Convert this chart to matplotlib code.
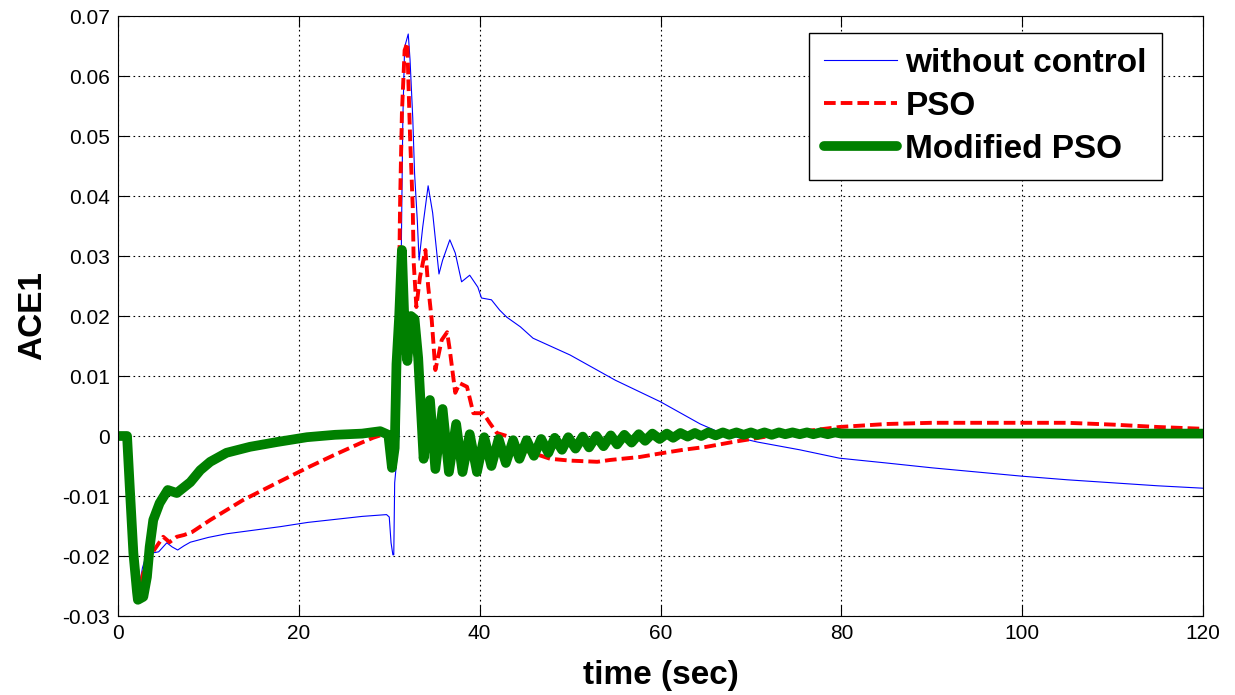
import matplotlib
matplotlib.use("Agg")
import matplotlib.pyplot as plt

plt.rcParams['font.family'] = ['Liberation Sans', 'DejaVu Sans']

# without control (blue)
t_nc = [0, 1.0, 1.3, 1.7, 2.1, 2.3, 2.7, 3.2, 3.8, 4.5, 5.4, 6.0, 6.6, 7.3, 8.0,
        10, 12, 15, 18, 21, 24, 27, 29.7, 30.0, 30.2, 30.4, 30.5, 30.6, 30.8, 31.1,
        31.4, 31.5, 31.7, 32.1, 32.3, 32.6, 32.8, 33.1, 33.3, 33.7, 34.3, 34.8,
        35.5, 35.9, 36.7, 37.3, 38.0, 38.9, 39.8, 40.2, 41.3, 42.2, 43.0, 44.5,
        45.9, 50, 55, 60, 64.4, 67, 70.7, 75.4, 79.8, 85, 90, 95, 100, 105, 110,
        115, 120]
y_nc = [0, 0, -0.006, -0.015, -0.022, -0.0257, -0.022, -0.0195, -0.0195, -0.0193,
        -0.0178, -0.0185, -0.019, -0.0183, -0.0177,
        -0.0169, -0.0163, -0.0157, -0.0151, -0.0144, -0.0139, -0.0134, -0.0131,
        -0.0135, -0.0178, -0.0198, -0.0198, -0.0078, -0.0045, 0.0005,
        0.0398, 0.0527, 0.0648, 0.067, 0.0627, 0.053, 0.0438, 0.036, 0.0293,
        0.0348, 0.0417, 0.0372, 0.027, 0.0293, 0.0327, 0.0305, 0.0257, 0.0268,
        0.0248, 0.023, 0.0227, 0.021, 0.0198, 0.0182, 0.0163, 0.0135, 0.0093,
        0.0057, 0.002, 0.0003, -0.001, -0.0023, -0.0037, -0.0045, -0.0053,
        -0.006, -0.0067, -0.0073, -0.0078, -0.0083, -0.0087]

# PSO (red dashed)
t_pso = [0, 1.0, 1.3, 1.7, 2.1, 2.4, 2.8, 3.3, 4.0, 5.0, 5.7, 6.5, 7.3, 8.2,
         10.2, 13.8, 17.6, 21.2, 24, 26.8, 28.2, 29.2, 29.8, 30.3, 30.7, 31.0,
         31.2, 31.4, 31.7, 32.0, 32.1, 32.3, 32.6, 32.7, 33.0, 33.4, 34.0, 34.3,
         34.7, 35.1, 35.8, 36.4, 36.7, 37.3, 37.8, 38.6, 39.3, 40.4, 41.1, 41.9,
         43.0, 44.8, 47.8, 50, 53, 54.4, 57.7, 60, 62.5, 65.1, 68, 71.7, 75.4,
         79.8, 85, 90, 100, 105, 110, 115, 120]
y_pso = [0, 0, -0.006, -0.015, -0.022, -0.0253, -0.0228, -0.0212, -0.019, -0.0168,
         -0.0177, -0.0168, -0.0165, -0.016,
         -0.014, -0.0107, -0.0078, -0.0051, -0.0031, -0.0012, -0.0003, 0.0002,
         0.0, -0.0057, -0.002, 0.015,
         0.0388, 0.0538, 0.0643, 0.0655, 0.060, 0.050, 0.038, 0.029, 0.0215,
         0.0265, 0.031, 0.025, 0.0193, 0.011, 0.016, 0.0173, 0.0143, 0.0072,
         0.0088, 0.0082, 0.0038, 0.0038, 0.0022, 0.0005, 0.0, -0.0023, -0.0038,
         -0.0041, -0.0043, -0.004, -0.0035, -0.0029, -0.0023, -0.0018, -0.001,
         -0.0001, 0.0007, 0.0015, 0.002, 0.0022, 0.0022, 0.0022, 0.0019, 0.0015,
         0.0012]

# Modified PSO (green)
t_mpso = [0, 1.0, 1.3, 1.7, 2.1, 2.2, 2.8, 3.2, 3.5, 3.9, 4.6, 5.5, 6.5, 8.0,
          9.1, 10.2, 12, 14.6, 17.6, 20.9, 24, 27, 29.0, 29.9, 30.3, 30.6, 30.8,
          31.1, 31.4, 31.7, 32.0, 32.4, 32.8, 33.2,
          33.8, 34.5, 35.1, 35.9, 36.6, 37.4, 38.1, 38.9, 39.7, 40.5, 41.3, 42.1,
          42.9, 43.7, 44.4, 45.2, 46.0, 46.8, 47.6, 48.3, 49.1, 49.8, 50.6, 51.4,
          52.1, 52.9, 53.7, 54.5, 55.2, 56.0, 56.8, 57.6, 58.3, 59.1, 59.9, 60.7,
          61.4, 62.2, 63.0, 63.8, 64.5, 65.3, 66.1, 66.9, 67.6, 68.4, 69.2, 70.0,
          70.7, 71.5, 72.3, 73.1, 73.8, 74.6, 75.4, 76.2, 76.9, 77.7, 78.5, 79.3,
          80.0, 90, 100, 110, 120]
y_mpso = [0, 0, -0.0085, -0.0195, -0.026, -0.0273, -0.0268, -0.0235, -0.0185,
          -0.014, -0.0112, -0.009, -0.0095, -0.0077, -0.0057, -0.0043, -0.0028,
          -0.0018, -0.001, -0.0002, 0.0002, 0.0004, 0.0008, 0.0002, -0.0053,
          -0.002, 0.012, 0.02, 0.031, 0.018, 0.0125, 0.02, 0.0195, 0.013,
          -0.0038, 0.006, -0.0055, 0.0045, -0.006, 0.002, -0.006, 0.0003, -0.006,
          -0.0002, -0.005, -0.0005, -0.0045, -0.0007, -0.0038, -0.0007, -0.0033,
          -0.0005, -0.0028, -0.0003, -0.0023, -0.0002, -0.0021, -0.0001, -0.0019,
          0.0, -0.0017, 0.0001, -0.0014, 0.0002, -0.0011, 0.0003, -0.0008, 0.0004,
          -0.0005, 0.0004, -0.0003, 0.0005, -0.0001, 0.0005, 0.0, 0.0006, 0.0001,
          0.0006, 0.0002, 0.0006, 0.0002, 0.0006, 0.0002, 0.0006, 0.0002, 0.0006,
          0.0003, 0.0006, 0.0003, 0.0006, 0.0003, 0.0006, 0.0003, 0.0006, 0.0004,
          0.0004, 0.0004, 0.0004, 0.0004]

x_ticks = [0, 20, 40, 60, 80, 100, 120]
y_ticks = [-0.03, -0.02, -0.01, 0, 0.01, 0.02, 0.03, 0.04, 0.05, 0.06, 0.07]
y_ticklabels = ['-0.03', '-0.02', '-0.01', '0', '0.01', '0.02', '0.03', '0.04',
                '0.05', '0.06', '0.07']

fig = plt.figure(figsize=(12.35, 6.95), dpi=100)
ax = fig.add_axes([118 / 1235, 79 / 695, 1085 / 1235, 600 / 695])

ax.plot(t_nc, y_nc, color='#0000FF', lw=0.8, label='without control')
ax.plot(t_pso, y_pso, color='#FF0000', lw=2.8, dashes=(3, 1.3), label='PSO')
ax.plot(t_mpso, y_mpso, color='#008000', lw=7, solid_joinstyle='round',
        solid_capstyle='round', label='Modified PSO')

ax.set_xlim(0, 120)
ax.set_ylim(-0.03, 0.07)
ax.set_xticks(x_ticks)
ax.set_yticks(y_ticks)
ax.set_yticklabels(y_ticklabels)
ax.grid(True, color='black', linestyle=(0, (1.5, 3)), linewidth=0.8)
ax.tick_params(direction='in', top=True, right=True, length=8, width=0.8,
               labelsize=15, pad=6)
for s in ax.spines.values():
    s.set_linewidth(0.8)

ax.set_xlabel('time (sec)', fontsize=24, fontweight='bold', labelpad=12)
ax.set_ylabel('ACE1', fontsize=24, fontweight='bold', labelpad=10)

leg = ax.legend(loc='upper right', bbox_to_anchor=(0.962, 0.972), borderaxespad=0,
                fancybox=False, framealpha=1, edgecolor='black', handlelength=2.2,
                handletextpad=0.25, labelspacing=0.36, borderpad=0.45,
                prop={'size': 24, 'weight': 'bold'})
leg.get_frame().set_linewidth(1.0)

fig.savefig('out.png', dpi=100)
